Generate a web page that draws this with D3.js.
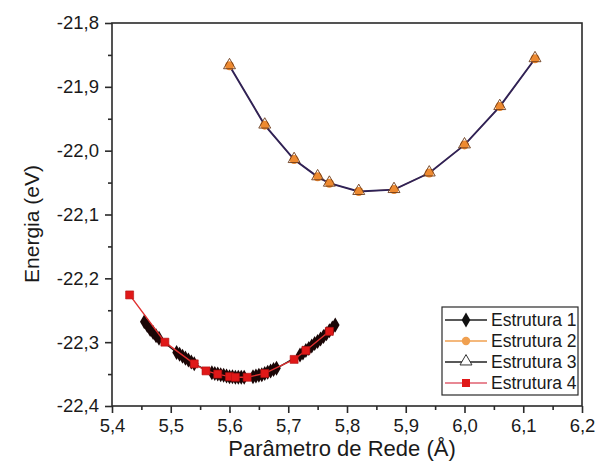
<!DOCTYPE html>
<html>
<head>
<meta charset="utf-8">
<script src="https://cdn.jsdelivr.net/npm/d3@7"></script>
<style>
  html, body { margin: 0; padding: 0; background: #fff; }
  svg { display: block; }
  text { font-family: "Liberation Sans", Arial, sans-serif; fill: #1a1a1a; }
</style>
</head>
<body>
<svg id="chart" width="608" height="461"></svg>
<script>
// Lattice parameter (Å) and total energy (eV) for each structure
const s1X = [5.455, 5.460, 5.465, 5.470, 5.475, 5.480,
             5.510, 5.515, 5.520, 5.525, 5.530, 5.535, 5.540,
             5.570, 5.575, 5.580, 5.585, 5.590, 5.595, 5.600, 5.605, 5.610, 5.615, 5.620, 5.625,
             5.640, 5.645, 5.650, 5.655, 5.660, 5.665, 5.670, 5.675, 5.680,
             5.720, 5.725, 5.730, 5.735, 5.740, 5.745, 5.750, 5.755, 5.760, 5.765, 5.770, 5.775, 5.780];
const s1E = [-22.268, -22.274, -22.280, -22.285, -22.290, -22.294,
             -22.316, -22.319, -22.322, -22.325, -22.328, -22.331, -22.334,
             -22.348, -22.349, -22.350, -22.351, -22.352, -22.353, -22.354, -22.354, -22.355, -22.355, -22.355, -22.355,
             -22.354, -22.353, -22.352, -22.351, -22.349, -22.347, -22.345, -22.343, -22.341,
             -22.320, -22.317, -22.313, -22.310, -22.306, -22.302, -22.299, -22.295, -22.291, -22.287, -22.282, -22.278, -22.273];

const s2X = [5.60, 5.66, 5.71, 5.75, 5.77, 5.82, 5.88, 5.94, 6.00, 6.06, 6.12];
const s2E = [-21.867, -21.960, -22.014, -22.041, -22.051, -22.064, -22.061, -22.035, -21.991, -21.931, -21.856];

const s3X = [5.60, 5.66, 5.71, 5.75, 5.77, 5.82, 5.88, 5.94, 6.00, 6.06, 6.12];
const s3E = [-21.867, -21.960, -22.014, -22.041, -22.051, -22.064, -22.061, -22.035, -21.991, -21.931, -21.856];

const s4X = [5.43, 5.49, 5.54, 5.56, 5.58, 5.60, 5.61, 5.63, 5.66, 5.71, 5.73, 5.77];
const s4E = [-22.226, -22.300, -22.334, -22.345, -22.350, -22.354, -22.355, -22.355, -22.349, -22.327, -22.313, -22.283];

const xTicks = [5.4, 5.5, 5.6, 5.7, 5.8, 5.9, 6.0, 6.1, 6.2];
const yTicks = [-21.8, -21.9, -22.0, -22.1, -22.2, -22.3, -22.4];
const seriesNames = ["Estrutura 1", "Estrutura 2", "Estrutura 3", "Estrutura 4"];

const svg = d3.select("#chart");
const m = { left: 112, right: 582, top: 23, bottom: 406 };

const x = d3.scaleLinear().domain([5.4, 6.2]).range([m.left, m.right]);
const y = d3.scaleLinear().domain([-22.4, -21.8]).range([m.bottom, m.top]);
const fmt = v => d3.format(".1f")(v).replace(".", ",").replace("−", "-");

const zip = (xs, es) => xs.map((v, i) => ({ x: v, e: es[i] }));
const line = d3.line().x(d => x(d.x)).y(d => y(d.e));

// frame
svg.append("rect")
  .attr("x", m.left).attr("y", m.top)
  .attr("width", m.right - m.left).attr("height", m.bottom - m.top)
  .attr("fill", "none").attr("stroke", "#2a2a2a").attr("stroke-width", 1.6);

// axes with major and minor ticks
const xAxis = svg.append("g").attr("transform", `translate(0,${m.bottom})`)
  .call(d3.axisBottom(x).tickValues(xTicks).tickFormat(fmt).tickSize(7).tickPadding(6));
const xMinor = svg.append("g").attr("transform", `translate(0,${m.bottom})`)
  .call(d3.axisBottom(x).tickValues(d3.range(5.45, 6.2, 0.1)).tickFormat("").tickSize(4));
const yAxis = svg.append("g").attr("transform", `translate(${m.left},0)`)
  .call(d3.axisLeft(y).tickValues(yTicks).tickFormat(fmt).tickSize(7).tickPadding(6));
const yMinor = svg.append("g").attr("transform", `translate(${m.left},0)`)
  .call(d3.axisLeft(y).tickValues(d3.range(-21.85, -22.4, -0.1)).tickFormat("").tickSize(4));

[xAxis, xMinor, yAxis, yMinor].forEach(g => {
  g.select(".domain").remove();
  g.selectAll("line").attr("stroke", "#2a2a2a").attr("stroke-width", 1.6);
  g.selectAll("text").style("font-size", "18.5px")
    .style("font-family", '"Liberation Sans", Arial, sans-serif').attr("fill", "#1a1a1a");
});

// axis titles
svg.append("text").attr("x", 342).attr("y", 456).attr("text-anchor", "middle")
  .style("font-size", "22px").text("Parâmetro de Rede (Å)");
svg.append("text").attr("transform", "translate(39,224) rotate(-90)").attr("text-anchor", "middle")
  .style("font-size", "21px").text("Energia (eV)");

// series styles
const c1 = "#111111", c2 = "#ee8a30", c3 = "#2e2258", c4 = "#e03030";
const sq = d3.symbol().type(d3.symbolSquare).size(64)();
const dia = d3.symbol().type(d3.symbolDiamond).size(65)();
const tri = d3.symbol().type(d3.symbolTriangle).size(62)();

const plot = svg.append("g");

// Estrutura 2 (orange circles) and 3 (open triangles)
plot.append("path").attr("d", line(zip(s2X, s2E))).attr("fill", "none")
  .attr("stroke", c2).attr("stroke-width", 1.2);
plot.append("path").attr("d", line(zip(s3X, s3E))).attr("fill", "none")
  .attr("stroke", c3).attr("stroke-width", 1.9);
plot.selectAll(".p2").data(zip(s2X, s2E)).join("circle")
  .attr("cx", d => x(d.x)).attr("cy", d => y(d.e)).attr("r", 4.5).attr("fill", c2);
plot.selectAll(".p3").data(zip(s3X, s3E)).join("path")
  .attr("d", tri).attr("transform", d => `translate(${x(d.x)},${y(d.e) - 0.5})`)
  .attr("fill", "none").attr("stroke", "#6b3a18").attr("stroke-width", 0.9);

// Estrutura 1 (black diamonds)
plot.append("path").attr("d", line(zip(s1X, s1E))).attr("fill", "none")
  .attr("stroke", c1).attr("stroke-width", 1.4);
plot.selectAll(".p1").data(zip(s1X, s1E)).join("path")
  .attr("d", dia).attr("transform", d => `translate(${x(d.x)},${y(d.e)})`)
  .attr("fill", "#1a0606");

// Estrutura 4 (red squares)
plot.append("path").attr("d", line(zip(s4X, s4E))).attr("fill", "none")
  .attr("stroke", c4).attr("stroke-width", 1.4);
plot.selectAll(".p4").data(zip(s4X, s4E)).join("path")
  .attr("d", sq).attr("transform", d => `translate(${x(d.x)},${y(d.e)})`)
  .attr("fill", "#e01818").attr("stroke", "#b01010").attr("stroke-width", 0.6);

// legend
const lg = svg.append("g");
lg.append("rect").attr("x", 442).attr("y", 307).attr("width", 136).attr("height", 88)
  .attr("fill", "#fff").attr("stroke", "#2a2a2a").attr("stroke-width", 1.2);
const rowY = [320, 341, 362, 383];
const legLine = ["#222", "#f0a050", "#222", "#e06070"];
seriesNames.forEach((name, i) => {
  const g = lg.append("g").attr("transform", `translate(0,${rowY[i]})`);
  g.append("line").attr("x1", 445).attr("x2", 487).attr("y1", 0).attr("y2", 0)
    .attr("stroke", legLine[i]).attr("stroke-width", 1.6);
  if (i === 0) g.append("path").attr("d", dia).attr("transform", "translate(466,0)").attr("fill", "#111");
  if (i === 1) g.append("circle").attr("cx", 466).attr("cy", 0).attr("r", 4.2).attr("fill", "#f0a050");
  if (i === 2) g.append("path").attr("d", tri).attr("transform", "translate(466,-0.5)")
    .attr("fill", "#fff").attr("stroke", "#333").attr("stroke-width", 1);
  if (i === 3) g.append("path").attr("d", sq).attr("transform", "translate(466,0)").attr("fill", "#e01818");
  g.append("text").attr("x", 491).attr("y", 6).style("font-size", "17.5px").text(name);
});
</script>
</body>
</html>
